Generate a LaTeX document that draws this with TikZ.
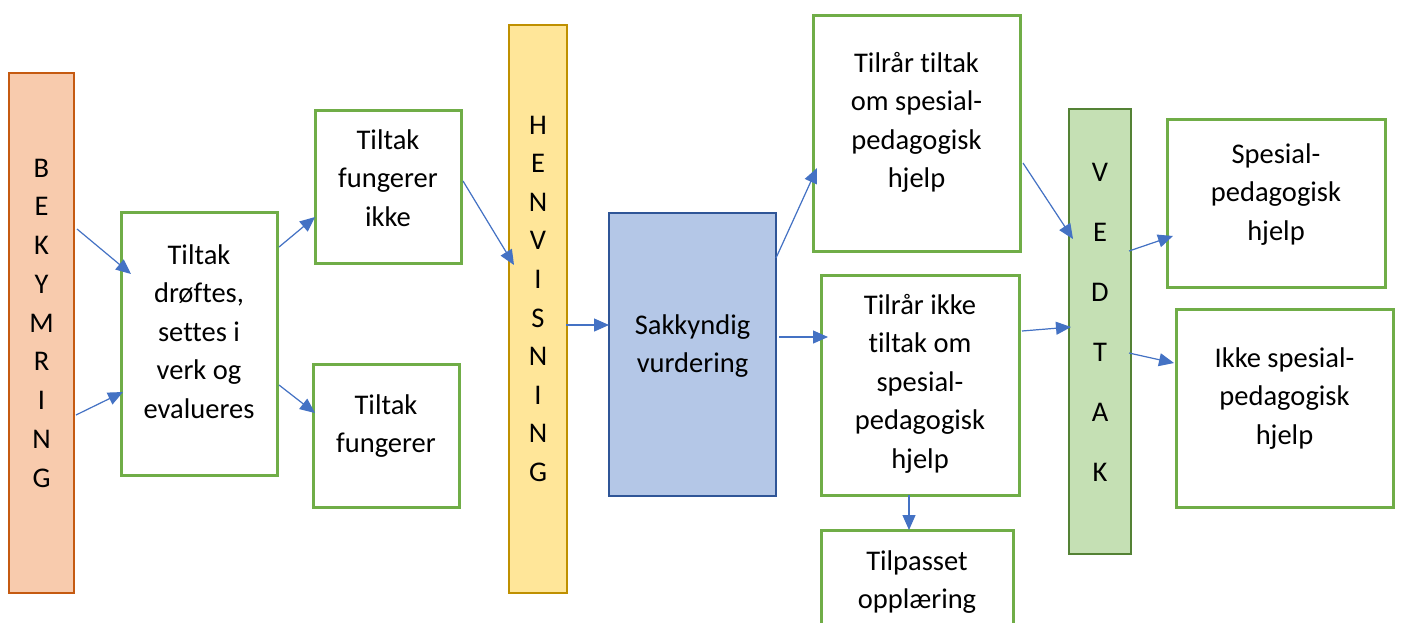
\documentclass[tikz,border=0pt]{standalone}
\usepackage{fontspec}
\setmainfont{Carlito}[Ligatures=NoCommon]
\usetikzlibrary{arrows.meta,calc}
\definecolor{arrowblue}{HTML}{4472C4}
\definecolor{boxgreen}{HTML}{70AD47}
\definecolor{bekfill}{HTML}{F8CBAD}
\definecolor{bekdraw}{HTML}{C55A11}
\definecolor{henfill}{HTML}{FFE699}
\definecolor{hendraw}{HTML}{BF9000}
\definecolor{sakfill}{HTML}{B4C7E7}
\definecolor{sakdraw}{HTML}{2F5597}
\definecolor{vedfill}{HTML}{C5E0B4}
\definecolor{veddraw}{HTML}{548235}
\newcommand{\mystrut}{\rule{0pt}{22pt}}
\begin{document}
\begin{tikzpicture}[x=1pt,y=-1pt,
  boxbase/.style={rectangle, inner sep=0pt, outer sep=0pt},
  gbox/.style={boxbase, draw=boxgreen, line width=3pt, fill=white},
  txt/.style={inner sep=0pt, outer sep=0pt, anchor=north, align=center,
    font=\fontsize{28.5pt}{38.5pt}\selectfont, text=black},
  ltxt/.style={txt, font=\fontsize{28.5pt}{#1}\selectfont},
  conn/.style={draw=arrowblue, line width=1.2pt,
    -{Triangle[length=15pt,width=13pt]}, fill=arrowblue}
]
\useasboundingbox (0,0) rectangle (1402,622);
\clip (0,0) rectangle (1402,622);
\fill[white] (0,0) rectangle (1402,622);

% boxes
\node[boxbase, draw=bekdraw, fill=bekfill, line width=2.8pt,
  minimum width=65pt, minimum height=520pt] (bek) at (41.5,333) {};
\node[gbox, minimum width=156pt, minimum height=263pt] (drof) at (199,343.5) {};
\node[gbox, minimum width=146pt, minimum height=153pt] (fi) at (388,186.5) {};
\node[gbox, minimum width=146pt, minimum height=143pt] (ff) at (386,435.5) {};
\node[boxbase, draw=hendraw, fill=henfill, line width=2.8pt,
  minimum width=58pt, minimum height=568pt] (hen) at (538,309) {};
\node[boxbase, draw=sakdraw, fill=sakfill, line width=2.8pt,
  minimum width=167pt, minimum height=283pt] (sak) at (692.5,354.5) {};
\node[gbox, minimum width=207pt, minimum height=236pt] (tt) at (916.5,133) {};
\node[gbox, minimum width=198pt, minimum height=220pt] (ti) at (920,385) {};
\node[gbox, minimum width=192pt, minimum height=120pt] (tp) at (917,590) {};
\node[boxbase, draw=veddraw, fill=vedfill, line width=1.8pt,
  minimum width=62pt, minimum height=445pt] (ved) at (1100,331.5) {};
\node[gbox, minimum width=218pt, minimum height=168pt] (sp) at (1276,203) {};
\node[gbox, minimum width=217pt, minimum height=198pt] (ik) at (1284.5,408) {};

% texts (north = first baseline - 22)
\node[ltxt=38.75pt] (bekt) at (41.5,155) {\mystrut B\\E\\K\\Y\\M\\R\\I\\N\\G};
\node[txt] (droft) at (199,242) {\mystrut Tiltak\\drøftes,\\settes i\\verk og\\evalueres};
\node[txt] (fit) at (388,127) {\mystrut Tiltak\\fungerer\\ikke};
\node[txt] (fft) at (386,392) {\mystrut Tiltak\\fungerer};
\node[ltxt=38.6pt] (hent) at (538,112) {\mystrut H\\E\\N\\V\\I\\S\\N\\I\\N\\G};
\node[txt] (sakt) at (692.5,312) {\mystrut Sakkyndig\\vurdering};
\node[txt] (ttt) at (916.5,50) {\mystrut Tilrår tiltak\\om spesial-\\pedagogisk\\hjelp};
\node[txt] (tit) at (920,292) {\mystrut Tilrår ikke\\tiltak om\\spesial-\\pedagogisk\\hjelp};
\node[txt] (tpt) at (917,548) {\mystrut Tilpasset\\opplæring};
\node[ltxt=60pt] (vedt) at (1100,159) {\mystrut V\\E\\D\\T\\A\\K};
\node[txt] (spt) at (1276,141) {\mystrut Spesial-\\pedagogisk\\hjelp};
\node[txt] (ikt) at (1284.5,345) {\mystrut Ikke spesial-\\pedagogisk\\hjelp};

% connectors
\draw[conn] ($(bek.north east)+(3,156)$) -- ($(drof.north west)+(10,62)$);
\draw[conn] ($(bek.north east)+(2,342)$) -- ($(drof.north west)+(2,180)$);
\draw[conn] ($(drof.north east)+(2,35)$) -- ($(fi.north west)+(0,107)$);
\draw[conn] ($(drof.north east)+(2,173)$) -- ($(ff.north west)+(2,49)$);
\draw[conn] ($(fi.north east)+(2,71)$) -- ($(hen.north west)+(5,240)$);
\draw[conn] ($(hen.north east)+(-1,300)$) -- ($(sak.north west)+(0,112)$);
\draw[conn] ($(sak.north east)+(0,45)$) -- ($(tt.north west)+(4,153)$);
\draw[conn] ($(sak.north east)+(3,124)$) -- ($(ti.north west)+(7,62)$);
\draw[conn] ($(ti.south west)+(88,0)$) -- ($(tp.north west)+(88,0)$);
\draw[conn] ($(tt.north east)+(3,148)$) -- ($(ved.north west)+(4,130)$);
\draw[conn] ($(ti.north east)+(3,56)$) -- ($(ved.north west)+(2,218)$);
\draw[conn] ($(ved.north east)+(-2,142)$) -- ($(sp.north west)+(6,117)$);
\draw[conn] ($(ved.north east)+(-2,244)$) -- ($(ik.north west)+(-2,54)$);
\end{tikzpicture}
\end{document}
